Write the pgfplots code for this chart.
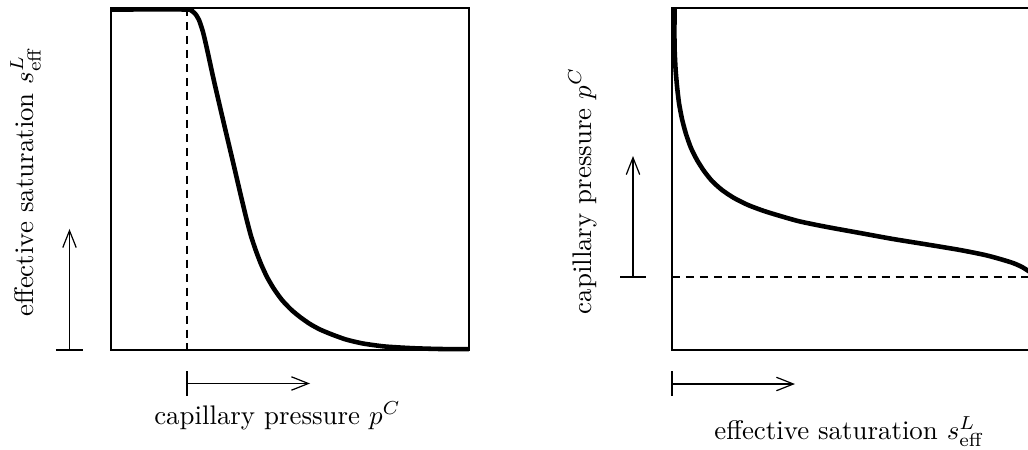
\documentclass[border=0pt]{standalone}
\usepackage{pgfplots}
\pgfplotsset{compat=1.18}
\usetikzlibrary{arrows.meta}
\tikzset{arr/.style={line width=0.45pt, -{Straight Barb[length=6.3pt,width=5pt]}}}
\pgfplotsset{panel/.style={scale only axis, width=133.176pt, height=127.224pt,
  ymin=8, ymax=350, y dir=reverse, xtick=\empty, ytick=\empty, clip=false,
  axis line style={line width=0.4pt}}}
\begin{document}
\begin{tikzpicture}
\def\u{0.372pt}
\useasboundingbox (-111*\u, 350*\u) rectangle (917*\u, -100*\u);
% left panel
\begin{axis}[panel, xmin=111, xmax=469, at={(0,0)}, anchor=south west]
\addplot[black, line width=1.7pt, line join=round, smooth, tension=0.4] coordinates {
(111,9.5) (187,9.5) (191,10.5) (195,13.5) (199,20) (203,32) (207,49) (214,81) (224,124)
(233,162) (240,192) (246,217) (251,236) (256,251) (261,264) (267,277) (274,289) (282,300)
(291,309.5) (300,317) (310,324) (320,329.5) (332,334.5) (346,339.5) (363,343.5) (385,346.5)
(413,348.2) (440,349) (469,349.2)};
\addplot[black, line width=0.45pt, dash pattern=on 3pt off 2.2pt] coordinates {(187,8) (187,350)};
\draw[arr] (axis cs:69.5,350) -- (axis cs:69.5,229);
\draw[line width=0.45pt] (axis cs:56,350) -- (axis cs:83,350);
\draw[arr] (axis cs:187,383.5) -- (axis cs:310,383.5);
\draw[line width=0.45pt] (axis cs:187,371) -- (axis cs:187,396);
\node[rotate=90, anchor=base, inner sep=0pt] at (axis cs:33,181.5) {effective saturation $s^L_{\mathrm{eff}}$};
\node[anchor=base, inner sep=0pt] at (axis cs:277.5,424) {capillary pressure $p^C$};
\end{axis}
% right panel
\begin{axis}[panel, xmin=672, xmax=1030, at={(561*\u,0)}, anchor=south west]
\addplot[black, line width=1.7pt, line join=round, smooth, tension=0.4] coordinates {
(674.5,8) (674.5,45) (675.5,68) (677,86) (679,103) (682,119) (686,134) (691,148) (697,160)
(704,171) (712,181) (722,190) (734,198) (748,205) (764,211) (782,216.5) (800,221.5) (827,227)
(860,233) (893,239) (927,244.5) (960,250) (985,255) (1000,259) (1013,263) (1022,267) (1030,272)};
\addplot[black, line width=0.45pt, dash pattern=on 3pt off 2.2pt] coordinates {(672,277) (1030,277)};
\draw[arr] (axis cs:633,277) -- (axis cs:633,156);
\draw[line width=0.45pt] (axis cs:620,277) -- (axis cs:646,277);
\draw[arr] (axis cs:672,384) -- (axis cs:795,384);
\draw[line width=0.45pt] (axis cs:672,371) -- (axis cs:672,396);
\node[rotate=90, anchor=base, inner sep=0pt] at (axis cs:591,191) {capillary pressure $p^C$};
\node[anchor=base, inner sep=0pt] at (axis cs:849.5,439) {effective saturation $s^L_{\mathrm{eff}}$};
\end{axis}
\end{tikzpicture}
\end{document}
